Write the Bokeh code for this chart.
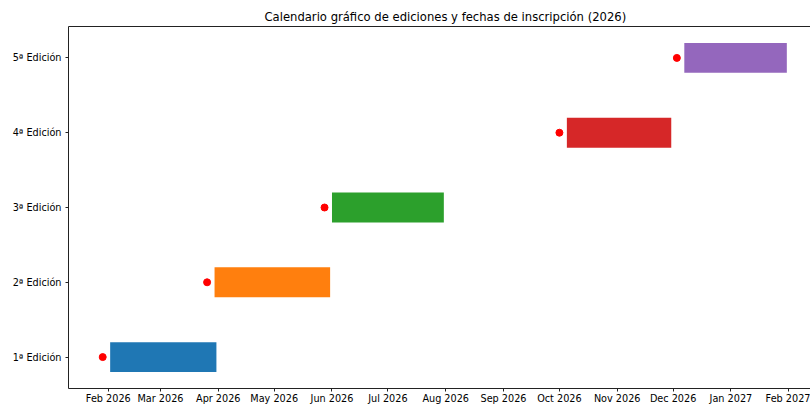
import pandas as pd
from bokeh.plotting import figure
from bokeh.models import (ColumnDataSource, FixedTicker, DatetimeTickFormatter,
                          LinearAxis, Range1d)
from bokeh.embed import file_html
from bokeh.resources import INLINE

# ---- data ----
editions = ["1ª Edición", "2ª Edición", "3ª Edición", "4ª Edición", "5ª Edición"]
registration = ["2026-01-29", "2026-03-26", "2026-05-28", "2026-10-01", "2026-12-03"]
start_dates = ["2026-02-02", "2026-03-30", "2026-06-01", "2026-10-05", "2026-12-07"]
end_dates = ["2026-03-31", "2026-05-31", "2026-07-31", "2026-11-30", "2027-01-31"]
colors = ["#1f77b4", "#ff7f0e", "#2ca02c", "#d62728", "#9467bd"]
month_ticks = ["2026-02-01", "2026-03-01", "2026-04-01", "2026-05-01", "2026-06-01",
               "2026-07-01", "2026-08-01", "2026-09-01", "2026-10-01", "2026-11-01",
               "2026-12-01", "2027-01-01", "2027-02-01"]
title = "Calendario gráfico de ediciones y fechas de inscripción (2026)"

FONT = "DejaVu Sans"
ypos = list(range(1, len(editions) + 1))
reg = pd.to_datetime(registration)
st = pd.to_datetime(start_dates)
en = pd.to_datetime(end_dates)

src = ColumnDataSource(dict(y=ypos, left=st, right=en, color=colors))
dots = ColumnDataSource(dict(x=reg, y=ypos))

def ms(t):
    return t.value / 1e6

dmin = ms(reg.min())
dmax = ms(en.max())
D = dmax - dmin

p = figure(width=810, height=406, output_backend="svg", toolbar_location=None,
           x_axis_type="datetime",
           x_range=Range1d(dmin - 0.05 * D, dmax + 0.0346 * D),
           y_range=Range1d(0.58, 5.42),
           min_border_left=68, min_border_right=0, min_border_top=26,
           min_border_bottom=18)

p.hbar(y="y", left="left", right="right", height=0.4, fill_color="color",
       line_color=None, source=src)
p.scatter(x="x", y="y", size=7, color="red", source=dots)

p.xgrid.visible = False
p.ygrid.visible = False
p.outline_line_color = None
p.background_fill_color = "white"
p.border_fill_color = "white"

p.title.text = title
p.title.text_font = FONT
p.title.text_font_size = "11.6px"
p.title.text_font_style = "normal"
p.title.text_color = "black"
p.title.align = "left"
p.title.offset = 196
p.title.standoff = 6

for ax in (p.xaxis[0], p.yaxis[0]):
    ax.axis_line_color = "#222222"
    ax.axis_line_width = 1
    ax.major_tick_line_color = "#222222"
    ax.major_tick_out = 3
    ax.major_tick_in = 0
    ax.minor_tick_line_color = None
    ax.major_label_text_font = FONT
    ax.major_label_text_font_size = "9.7px"
    ax.major_label_text_color = "black"

p.xaxis.ticker = FixedTicker(ticks=[ms(t) for t in pd.to_datetime(month_ticks)])
fmt = "%b %Y"
p.xaxis.formatter = DatetimeTickFormatter(
    microseconds=fmt, milliseconds=fmt, seconds=fmt, minsec=fmt, minutes=fmt,
    hourmin=fmt, hours=fmt, days=fmt, months=fmt, years=fmt)
p.xaxis.major_label_standoff = 1

p.yaxis.ticker = FixedTicker(ticks=ypos)
p.yaxis.major_label_overrides = {y: lab for y, lab in zip(ypos, editions)}
p.yaxis.major_label_standoff = 4

top = LinearAxis(ticker=FixedTicker(ticks=[]), major_tick_out=0, major_tick_in=0,
                 minor_tick_out=0, minor_tick_in=0, major_label_text_font_size="0px",
                 axis_line_color="#222222", axis_line_width=1,
                 major_label_standoff=0)
p.add_layout(top, "above")

open("out.html", "w").write(file_html(p, INLINE))
